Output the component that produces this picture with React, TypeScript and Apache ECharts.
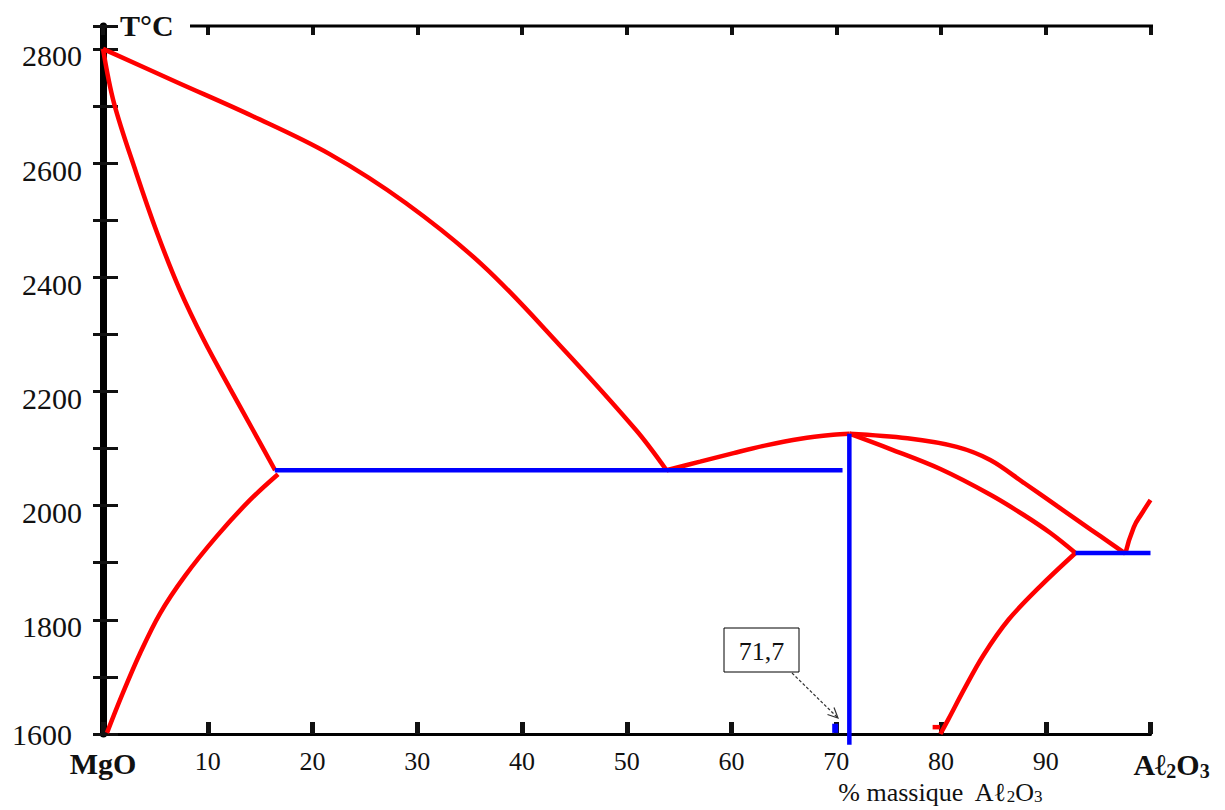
import React, { useEffect, useRef } from "react";
import * as echarts from "echarts";

// Composition (% mass Al2O3) vs temperature (°C)
const xTickValues = [0, 10, 20, 30, 40, 50, 60, 70, 80, 90, 100];
const yTickLabels = [1600, 1800, 2000, 2200, 2400, 2600, 2800];

const liquidusMgO = [
  [0, 2800], [7.0, 2742], [14.3, 2682], [21.6, 2616], [28.9, 2530],
  [36.3, 2420], [43.6, 2281], [50.9, 2132], [53.8, 2062],
];
const solidusMgO = [
  [0, 2800], [1.05, 2705], [3.15, 2584], [5.16, 2478], [7.26, 2381],
  [9.65, 2289], [12.13, 2205], [14.33, 2132], [16.43, 2062],
];
const solvusMgO = [
  [16.71, 2055], [14.04, 2010], [10.89, 1947], [7.83, 1877], [5.44, 1811],
  [3.53, 1741], [1.81, 1668], [0.38, 1602],
];
const liquidusSpinelLeft = [
  [53.8, 2062], [57.0, 2077], [60.2, 2092], [63.4, 2106], [66.6, 2117],
  [69.7, 2124], [71.25, 2126],
];
const liquidusSpinelRight = [
  [71.25, 2126], [76.8, 2118], [81.5, 2103], [84.7, 2080], [87.9, 2040],
  [91.1, 1999], [94.3, 1958], [96.2, 1934], [97.6, 1916],
];
const solidusSpinelRight = [
  [71.25, 2126], [75.17, 2099], [79.94, 2064], [84.72, 2019], [87.87, 1984],
  [90.45, 1952], [92.84, 1917],
];
const solvusSpinelRight = [
  [92.84, 1917], [89.49, 1859], [86.44, 1800], [84.05, 1738], [82.23, 1679],
  [80.71, 1626], [79.94, 1600],
];
const solvusStub = [[79.2, 1612], [79.9, 1612]];
const liquidusAl2O3 = [[97.6, 1916], [98.4, 1962], [99.2, 1987], [100, 2010]];

const eutectic1 = [[16.4, 2062], [70.6, 2062]];
const eutectic2 = [[92.84, 1917], [100, 1917]];
const spinelVertical = [[71.25, 2126], [71.25, 1581]];
const smallMark = [[69.9, 1602], [69.9, 1618]];

const annotationText = "71,7";

const SERIF = "'Liberation Serif', 'DejaVu Serif', serif";
const RED = "#ff0000";
const BLUE = "#0000ff";

export default function App() {
  const ref = useRef<HTMLDivElement>(null);

  useEffect(() => {
    if (!ref.current) return;
    const chart = echarts.init(ref.current, null, { renderer: "svg" });

    const redLine = (data: number[][], smooth: number | boolean = 0.35) => ({
      type: "line",
      data,
      showSymbol: false,
      smooth,
      clip: false,
      lineStyle: { color: RED, width: 4.5 },
      z: 3,
    });
    const blueLine = (data: number[][], width = 4.5) => ({
      type: "line",
      data,
      showSymbol: false,
      clip: false,
      lineStyle: { color: BLUE, width, cap: "butt" },
      z: 3,
    });

    const option: any = {
      animation: false,
      backgroundColor: "#ffffff",
      grid: { left: 103, right: 74.5, top: 26, bottom: 76, containLabel: false },
      xAxis: [
        {
          type: "value",
          position: "bottom",
          min: 0,
          max: 100,
          interval: 10,
          axisLine: { show: true, lineStyle: { color: "#000", width: 3 } },
          axisTick: { show: true, inside: true, length: 12, lineStyle: { color: "#111", width: 5 } },
          splitLine: { show: false },
          axisLabel: {
            margin: 14,
            formatter: (v: number) =>
              v === 0
                ? "{m|MgO}"
                : v === 100
                ? "{a|Aℓ}{s|2}{o|O}{s|3}"
                : xTickValues.includes(v)
                ? `{n|${v}}`
                : "",
            rich: {
              n: { fontFamily: SERIF, fontSize: 26, color: "#111" },
              m: { fontFamily: SERIF, fontSize: 30, fontWeight: "bold", color: "#111" },
              a: { fontFamily: SERIF, fontSize: 30, fontWeight: "bold", color: "#111", padding: [0, 0, 0, 42] },
              o: { fontFamily: SERIF, fontSize: 30, fontWeight: "bold", color: "#111" },
              s: { fontFamily: SERIF, fontSize: 20, fontWeight: "bold", color: "#111", padding: [13, 0, 0, 0] },
            },
          },
        },
        {
          type: "value",
          position: "top",
          min: 0,
          max: 100,
          interval: 10,
          axisLine: { show: false },
          axisTick: { show: true, inside: true, length: 9, lineStyle: { color: "#111", width: 4 } },
          axisLabel: { show: false },
          splitLine: { show: false },
        },
      ],
      yAxis: [
        {
          type: "value",
          position: "left",
          min: 1600,
          max: 2840,
          interval: 100,
          axisLine: { show: true, lineStyle: { color: "#000", width: 6 } },
          axisTick: { show: true, inside: true, length: 15, lineStyle: { color: "#111", width: 3 } },
          splitLine: { show: false },
          axisLabel: {
            margin: 21,
            formatter: (v: number) => {
              if (!yTickLabels.includes(v)) return "";
              return v === 1600 ? `{p|${v}}` : `{n|${v}}`;
            },
            rich: {
              n: { fontFamily: SERIF, fontSize: 30, color: "#111", padding: [14, 0, 0, 0] },
              p: { fontFamily: SERIF, fontSize: 30, color: "#111", padding: [0, 10, 0, 0] },
            },
          },
        },
        {
          type: "value",
          position: "right",
          min: 1600,
          max: 2840,
          interval: 100,
          axisLine: { show: true, lineStyle: { color: "#000", width: 7 } },
          axisTick: { show: true, inside: true, length: 10, lineStyle: { color: "#111", width: 3 } },
          axisLabel: { show: false },
          splitLine: { show: false },
        },
      ],
      series: [
        redLine(liquidusMgO),
        redLine(solidusMgO),
        redLine(solvusMgO),
        redLine(liquidusSpinelLeft),
        redLine(liquidusSpinelRight),
        redLine(solidusSpinelRight),
        redLine(solvusSpinelRight),
        redLine(solvusStub, false),
        redLine(liquidusAl2O3, 0.5),
        blueLine(eutectic1),
        blueLine(eutectic2),
        blueLine(spinelVertical),
        blueLine(smallMark, 6),
      ],
      graphic: [
        {
          type: "line",
          shape: { x1: 190, y1: 26, x2: 1153, y2: 26 },
          style: { stroke: "#000", lineWidth: 3 },
          z: 1,
        },
        {
          type: "text",
          x: 120,
          y: 25,
          style: {
            text: "T°C",
            font: `bold 30px ${SERIF}`,
            fill: "#111",
            align: "left",
            verticalAlign: "middle",
          },
        },
        {
          type: "text",
          x: 940,
          y: 792,
          style: {
            text: "{r|% massique  Aℓ}{s|2}{r|O}{s|3}",
            align: "center",
            verticalAlign: "middle",
            rich: {
              r: { fontFamily: SERIF, fontSize: 26, fill: "#111" },
              s: { fontFamily: SERIF, fontSize: 17, fill: "#111", padding: [9, 0, 0, 0] },
            },
          },
        },
        {
          type: "rect",
          shape: { x: 724, y: 628, width: 75, height: 44 },
          style: { fill: "#fff", stroke: "#000", lineWidth: 1 },
          z: 5,
        },
        {
          type: "text",
          x: 761.5,
          y: 651,
          z: 6,
          style: {
            text: annotationText,
            font: `26px ${SERIF}`,
            fill: "#111",
            align: "center",
            verticalAlign: "middle",
          },
        },
        {
          type: "line",
          shape: { x1: 792, y1: 673, x2: 837, y2: 717 },
          style: { stroke: "#333", lineWidth: 1.2, lineDash: [3, 2] },
          z: 5,
        },
        {
          type: "polyline",
          shape: { points: [[834, 707.5], [838, 718], [827.5, 714.5]] },
          style: { stroke: "#333", lineWidth: 1.2, fill: "none" },
          z: 5,
        },
      ],
    };

    chart.setOption(option);
    return () => chart.dispose();
  }, []);

  return (
    <div
      ref={ref}
      style={{ position: "fixed", left: 0, top: 0, width: 1225, height: 810, background: "#fff" }}
    />
  );
}
